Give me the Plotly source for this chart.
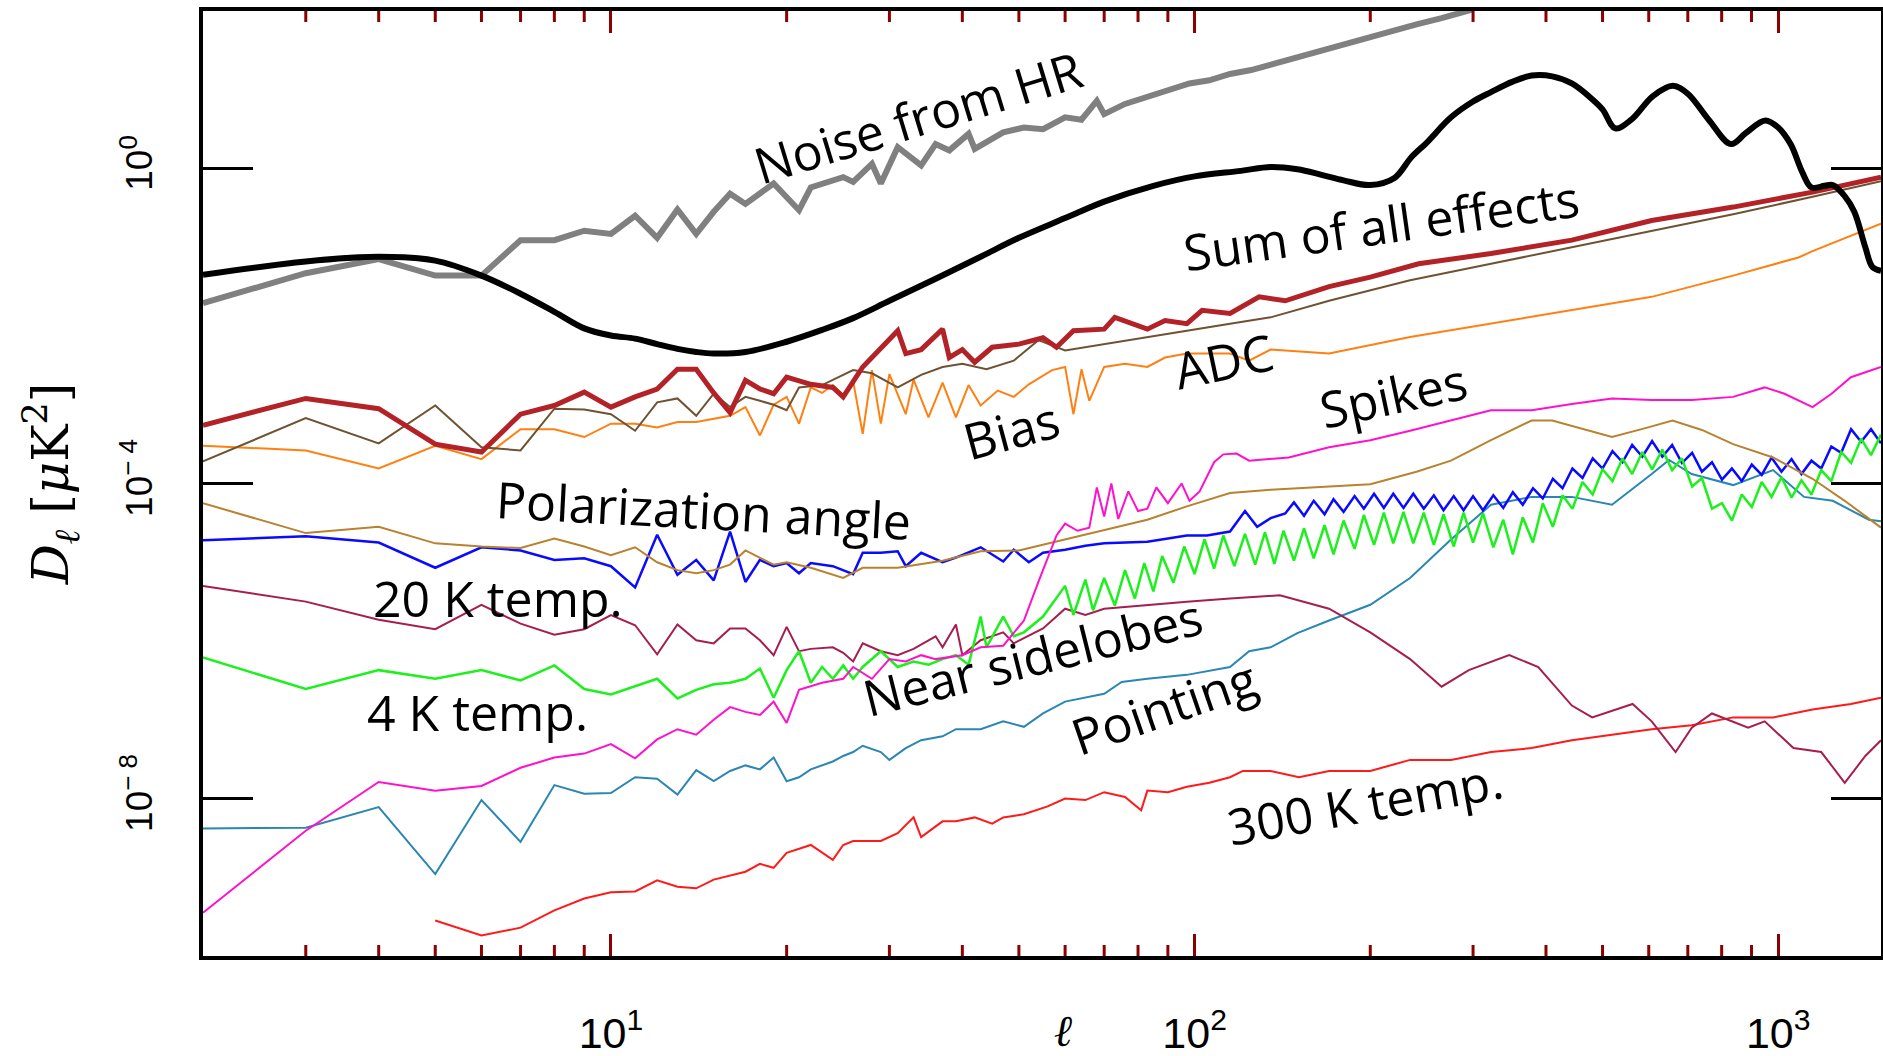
import numpy as np
import plotly.graph_objects as go

# ---- multipole grids and log10(D_ell / muK^2) for each curve ----
ell_cmb = [2, 3, 4, 5, 6, 7, 8, 9, 10, 11, 12, 13, 14, 15, 17, 20, 23, 26, 30, 36, 43, 50, 60, 70,
           85, 100, 120, 135, 150, 165, 180, 200, 220, 235, 250, 275, 300, 322, 350, 378, 410, 443,
           480, 500, 526, 560, 610, 660, 700, 760, 830, 880, 950, 1000, 1050, 1100, 1140, 1200,
           1240, 1300, 1350, 1410, 1450, 1500]
log_cmb = [-1.35, -1.18, -1.12, -1.17, -1.36, -1.59, -1.82, -2.03, -2.12, -2.16, -2.23, -2.29, -2.33,
           -2.35, -2.33, -2.20, -2.05, -1.90, -1.68, -1.40, -1.12, -0.88, -0.63, -0.42, -0.22, -0.10,
           -0.03, 0.02, -0.01, -0.08, -0.15, -0.21, -0.12, 0.14, 0.33, 0.65, 0.85, 0.97, 1.10, 1.18,
           1.17, 1.08, 0.88, 0.75, 0.51, 0.62, 0.92, 1.05, 0.95, 0.62, 0.31, 0.45, 0.61, 0.52, 0.31,
           -0.05, -0.24, -0.22, -0.21, -0.35, -0.55, -1.0, -1.25, -1.30]

ell_noise = [2, 3, 4, 5, 6, 7, 8, 9, 10, 11, 12, 13, 14, 15, 16, 17, 19, 21, 22, 25, 26, 28, 29, 31,
             34, 36, 38, 41, 42, 47, 51, 55, 60, 64, 68, 70, 76, 83, 90, 98, 106, 115, 125, 135, 150,
             165, 180, 200, 220, 240, 265, 290, 300]
log_noise = [-1.71, -1.33, -1.15, -1.36, -1.36, -0.91, -0.91, -0.79, -0.83, -0.60, -0.88, -0.52, -0.83,
             -0.55, -0.32, -0.45, -0.19, -0.53, -0.24, -0.11, -0.17, 0.06, -0.19, 0.27, 0.04, 0.31,
             0.23, 0.44, 0.25, 0.46, 0.52, 0.50, 0.65, 0.62, 0.86, 0.69, 0.82, 0.91, 0.98, 1.08, 1.12,
             1.20, 1.25, 1.32, 1.40, 1.50, 1.57, 1.67, 1.76, 1.83, 1.91, 1.98, 2.02]

ell_sum = [2, 3, 4, 5, 6, 7, 8, 9, 10, 11, 12, 13, 14, 15, 16, 17, 18, 19, 20, 22, 24, 25, 27, 29, 31,
           32, 34, 37, 38, 40, 42, 45, 50, 55, 58, 62, 70, 73, 83, 89, 97, 103, 115, 129, 143, 170,
           200, 242, 322, 443, 607, 837, 1145, 1500]
log_sum = [-3.26, -2.92, -3.05, -3.50, -3.60, -3.12, -3.01, -2.84, -3.03, -2.90, -2.80, -2.55, -2.55,
           -2.85, -3.10, -2.69, -2.80, -2.86, -2.65, -2.74, -2.78, -2.90, -2.52, -2.27, -2.06, -2.35,
           -2.30, -2.04, -2.40, -2.30, -2.46, -2.27, -2.23, -2.15, -2.27, -2.06, -2.04, -1.89, -2.04,
           -1.93, -1.97, -1.80, -1.84, -1.63, -1.68, -1.50, -1.38, -1.21, -1.08, -0.91, -0.66, -0.49,
           -0.30, -0.11]

ell_adc = [2, 3, 4, 5, 6, 7, 8, 9, 10, 11, 12, 13, 14, 15, 16, 17, 18, 19, 20, 21, 23, 26, 28, 31, 34,
           37, 40, 44, 49, 54, 60, 70, 83, 97, 115, 135, 170, 234, 322, 443, 607, 837, 1145, 1500]
log_adc = [-3.72, -3.17, -3.49, -3.01, -3.54, -3.58, -3.05, -3.06, -3.12, -3.33, -2.97, -2.92, -3.14,
           -2.86, -3.03, -2.90, -2.95, -3.0, -3.07, -2.78, -2.75, -2.56, -2.60, -2.78, -2.62, -2.52,
           -2.48, -2.55, -2.44, -2.18, -2.31, -2.23, -2.15, -2.06, -1.97, -1.89, -1.68, -1.42, -1.21,
           -1.0, -0.79, -0.58, -0.36, -0.16]

ell_bias = [2, 3, 4, 5, 6, 7, 8, 9, 10, 11, 12, 13, 14, 15, 16, 17, 18, 19, 20, 21, 22, 23, 24, 25,
            26, 27, 28, 29, 30, 32, 33, 35, 37, 39, 41, 43, 46, 49, 52, 57, 60, 62, 64, 66, 70, 76,
            83, 89, 97, 115, 124, 135, 170, 234, 322, 443, 607, 837, 1083, 1145, 1500]
log_bias = [-3.52, -3.58, -3.81, -3.52, -3.69, -3.31, -3.31, -3.41, -3.24, -3.24, -3.29, -3.22, -3.22,
            -3.18, -3.14, -3.03, -3.39, -3.0, -2.9, -3.24, -2.78, -2.85, -2.75, -2.88, -2.70, -3.37,
            -2.56, -3.24, -2.61, -3.12, -2.68, -3.16, -2.72, -3.16, -2.75, -3.01, -2.82, -2.90, -2.74,
            -2.56, -2.52, -3.12, -2.55, -2.95, -2.52, -2.48, -2.52, -2.40, -2.35, -2.35, -2.44, -2.30,
            -2.35, -2.14, -1.97, -1.80, -1.63, -1.36, -1.13, -1.05, -0.70]

ell_spikes = [2, 3, 4, 5, 6, 7, 8, 9, 10, 11, 12, 13, 14, 15, 16, 17, 18, 19, 20, 21, 23, 25, 26, 28,
              30, 32, 34, 36, 40, 43, 47, 49, 51, 54, 58, 60, 63, 66, 68, 70, 72, 74, 77, 80, 83, 86,
              90, 95, 98, 102, 106, 108, 112, 118, 124, 145, 170, 200, 234, 275, 322, 378, 443, 519,
              607, 711, 837, 948, 1025, 1145, 1234, 1332, 1500]
log_spikes = [-9.45, -8.41, -7.79, -7.90, -7.84, -7.61, -7.48, -7.43, -7.31, -7.49, -7.25, -7.12, -7.19,
              -7.0, -6.84, -6.90, -6.94, -6.77, -7.04, -6.62, -6.53, -6.48, -6.33, -6.48, -6.23, -6.26,
              -6.18, -6.23, -6.18, -6.08, -6.06, -5.89, -5.74, -5.25, -4.66, -4.51, -4.60, -4.56, -4.05,
              -4.42, -4.0, -4.45, -4.10, -4.35, -4.32, -4.05, -4.25, -4.0, -4.22, -4.10, -3.85, -3.73,
              -3.63, -3.62, -3.71, -3.67, -3.54, -3.45, -3.33, -3.20, -3.07, -3.07, -2.99, -2.92, -2.94,
              -2.94, -2.90, -2.78, -2.86, -3.03, -2.86, -2.65, -2.52]

ell_pol = [2, 3, 4, 5, 6, 7, 8, 9, 10, 11, 12, 13, 14, 15, 16, 17, 19, 20, 22, 25, 27, 31, 37, 43, 50,
           60, 70, 83, 97, 115, 135, 160, 200, 240, 275, 322, 378, 410, 460, 519, 590, 659, 740, 837,
           980, 1145, 1300, 1500]
log_pol = [-4.25, -4.63, -4.55, -4.76, -4.80, -4.82, -4.70, -4.80, -4.91, -4.81, -5.0, -5.10, -5.14,
           -5.10, -5.03, -4.85, -5.03, -5.0, -5.07, -5.20, -5.07, -5.07, -4.98, -4.86, -4.85, -4.71,
           -4.59, -4.46, -4.29, -4.12, -4.08, -4.05, -4.01, -3.85, -3.71, -3.45, -3.20, -3.20, -3.30,
           -3.41, -3.30, -3.20, -3.32, -3.50, -3.67, -3.94, -4.22, -4.56]

ell_blue = [2, 3, 4, 5, 6, 7, 8, 9, 10, 11, 12, 13, 14, 15, 16, 17, 18, 19, 20, 21, 22, 24, 26, 27, 29,
            31, 32, 34, 37, 39, 43, 47, 49, 52, 55, 60, 65, 70, 83, 97, 105, 115, 122, 128, 135, 143,
            148, 154, 160, 167, 173, 180, 188, 195, 203, 211, 219, 228, 237, 247, 257, 267, 278, 289,
            300, 312, 325, 338, 351, 365, 380, 395, 411, 427, 444, 462, 481, 500, 520, 541, 562, 585,
            608, 633, 658, 684, 712, 740, 770, 801, 833, 866, 901, 937, 974, 1013, 1054, 1096, 1140,
            1185, 1233, 1282, 1333, 1387, 1442, 1500]
log_blue = [-4.72, -4.67, -4.75, -5.07, -4.81, -4.85, -4.97, -4.95, -5.05, -5.32, -4.65, -5.16, -4.97,
            -5.23, -4.61, -5.25, -4.97, -5.05, -5.01, -5.14, -5.01, -5.05, -5.15, -4.88, -4.88, -4.86,
            -5.05, -4.88, -5.0, -4.94, -4.81, -4.99, -4.84, -5.0, -4.88, -4.84, -4.79, -4.76, -4.74,
            -4.66, -4.66, -4.61, -4.35, -4.55, -4.44, -4.38,
            -4.24, -4.41, -4.22, -4.39, -4.20, -4.36, -4.16, -4.32, -4.13, -4.31, -4.13, -4.31, -4.13,
            -4.32, -4.15, -4.34, -4.16, -4.34, -4.16, -4.34, -4.15, -4.31, -4.11, -4.27, -4.06, -4.19,
            -3.94, -4.06, -3.81, -3.93, -3.68, -3.81, -3.59, -3.73, -3.51, -3.66, -3.46, -3.66, -3.51,
            -3.74, -3.61, -3.85, -3.73, -3.95, -3.81, -3.97, -3.76, -3.89, -3.67, -3.85, -3.69, -3.88,
            -3.71, -3.81, -3.53, -3.61, -3.31, -3.47, -3.31, -3.49]

ell_20k = [2, 3, 4, 5, 6, 7, 8, 9, 10, 11, 12, 13, 14, 15, 16, 17, 18, 19, 20, 21, 22, 24, 25, 26, 27,
           29, 31, 33, 36, 37, 39, 40, 43, 47, 49, 55, 60, 65, 70, 83, 97, 115, 140, 170, 200, 234,
           265, 295, 346, 388, 443, 480, 563, 607, 667, 711, 770, 888, 948, 1062, 1185, 1300, 1410,
           1500]
log_20k = [-5.30, -5.50, -5.73, -5.85, -5.54, -5.78, -5.92, -5.85, -5.67, -5.80, -6.17, -5.79, -5.99,
           -6.03, -5.84, -5.84, -5.99, -6.18, -5.82, -6.13, -6.10, -6.08, -6.15, -6.26, -6.03, -6.13,
           -6.18, -6.10, -5.94, -6.08, -5.79, -6.18, -5.99, -5.89, -6.03, -5.84, -5.59, -5.67, -5.59,
           -5.54, -5.50, -5.46, -5.42, -5.59, -5.89, -6.23, -6.58, -6.37, -6.18, -6.33, -6.82, -6.97,
           -6.80, -7.02, -7.41, -7.10, -6.92, -7.10, -7.02, -7.36, -7.41, -7.80, -7.46, -7.26]

ell_4k = [2, 3, 4, 5, 6, 7, 8, 9, 10, 11, 12, 13, 14, 15, 16, 17, 18, 19, 20, 21, 22, 23, 24, 25, 26,
          27, 29, 31, 33, 35, 37, 39, 41, 43, 44, 47, 49, 51, 55,
          60, 62, 65, 67, 70, 73, 76, 79, 82, 85, 88, 92, 96, 100, 104, 108, 112, 117, 122, 127, 132,
          137, 142, 148, 154, 160, 167, 173, 180, 188, 195, 203, 211, 219, 228, 237, 247, 257, 267,
          278, 289, 300, 312, 325, 338, 351, 365, 380, 395, 411, 427, 444, 462, 481, 500, 520, 541,
          562, 585, 608, 633, 658, 684, 712, 740, 770, 801, 833, 866, 901, 937, 974, 1013, 1054,
          1096, 1140, 1185, 1233, 1282, 1333, 1387, 1442, 1500]
log_4k = [-6.21, -6.61, -6.37, -6.48, -6.37, -6.50, -6.31, -6.61, -6.68, -6.58, -6.48, -6.73, -6.62,
          -6.55, -6.53, -6.48, -6.35, -6.72, -6.37, -6.13, -6.53, -6.33, -6.48, -6.31, -6.48, -6.33,
          -6.13, -6.33, -6.26, -6.30, -6.23, -6.18, -6.30, -5.69, -6.08, -5.69, -5.94, -5.89, -5.69,
          -5.30, -5.67, -5.22, -5.61, -5.20, -5.55, -5.10, -5.46, -5.01, -5.37, -4.92, -5.26, -4.80,
          -5.15, -4.71, -5.08, -4.66, -5.05, -4.64, -5.03, -4.62, -5.02, -4.60, -4.98, -4.57, -4.95,
          -4.53, -4.90, -4.47, -4.83, -4.40, -4.78, -4.37, -4.76, -4.36, -4.76, -4.37, -4.78, -4.39,
          -4.80, -4.37, -4.75, -4.38, -4.81, -4.46, -4.90, -4.43, -4.75, -4.25, -4.55, -4.15, -4.32,
          -3.98, -4.14, -3.82, -3.97, -3.68, -3.88, -3.60, -3.82, -3.57, -3.83, -3.68, -4.04, -3.93,
          -4.32, -4.25, -4.47, -4.14, -4.30, -3.98, -4.17, -3.92, -4.18, -3.96, -4.14, -3.83, -3.97,
          -3.60, -3.74, -3.43, -3.64, -3.38]

ell_point = [2, 3, 4, 5, 6, 7, 8, 9, 10, 11, 12, 13, 14, 15, 16, 17, 18, 19, 20, 21, 22, 24, 25, 26,
             27, 29, 30, 32, 34, 37, 39, 43, 47, 51, 55, 60, 70, 75, 83, 97, 115, 124, 135, 150, 170,
             200, 234, 275, 322, 378, 443, 519, 607, 650, 711, 837, 980, 1107, 1240, 1430, 1500]
log_point = [-8.38, -8.37, -8.11, -8.96, -8.02, -8.55, -7.83, -7.94, -7.93, -7.73, -7.75, -7.95, -7.64,
             -7.78, -7.65, -7.58, -7.63, -7.48, -7.78, -7.73, -7.63, -7.53, -7.46, -7.41, -7.33, -7.41,
             -7.51, -7.36, -7.26, -7.21, -7.12, -7.12, -7.02, -7.09, -6.92, -6.77, -6.67, -6.52, -6.48,
             -6.43, -6.33, -6.13, -6.08, -5.90, -5.74, -5.54, -5.20, -4.71, -4.27, -4.17, -4.17, -4.27,
             -3.88, -3.70, -3.88, -4.02, -3.83, -4.17, -4.22, -4.46, -4.48]

ell_300k = [5, 6, 7, 8, 9, 10, 11, 12, 13, 14, 15, 16, 17, 18, 19, 20, 21, 22, 24, 25, 26, 29, 31, 33,
            34, 37, 39, 42, 45, 47, 51, 56, 60, 65, 70, 76, 81, 83, 90, 97, 106, 115, 121, 135, 151,
            170, 200, 234, 275, 322, 378, 443, 519, 607, 711, 837, 980, 1145, 1332, 1500]
log_300k = [-9.55, -9.74, -9.64, -9.42, -9.27, -9.19, -9.18, -9.04, -9.12, -9.14, -9.03, -8.98, -8.93,
            -8.83, -8.88, -8.69, -8.64, -8.59, -8.78, -8.59, -8.54, -8.54, -8.44, -8.24, -8.49, -8.29,
            -8.29, -8.24, -8.32, -8.24, -8.20, -8.10, -8.00, -8.02, -7.92, -7.98, -8.15, -7.90, -7.92,
            -7.85, -7.80, -7.73, -7.65, -7.65, -7.73, -7.65, -7.65, -7.51, -7.51, -7.41, -7.36, -7.26,
            -7.19, -7.12, -7.07, -6.97, -6.97, -6.87, -6.80, -6.72]

# drawing order: later entries sit on top
curves = [
    ("Pointing", ell_point, log_point, "#2a86b2", 2, "linear"),
    ("300 K temp.", ell_300k, log_300k, "#ff1a1a", 2, "linear"),
    ("20 K temp.", ell_20k, log_20k, "#a51e4f", 2, "linear"),
    ("Near sidelobes", ell_blue, log_blue, "#0a0aff", 2.5, "linear"),
    ("4 K temp.", ell_4k, log_4k, "#1ef01e", 2.5, "linear"),
    ("Polarization angle", ell_pol, log_pol, "#b8822e", 2, "linear"),
    ("Spikes", ell_spikes, log_spikes, "#ff11cc", 2, "linear"),
    ("Bias", ell_bias, log_bias, "#ff8010", 2, "linear"),
    ("ADC", ell_adc, log_adc, "#6e5232", 2, "linear"),
    ("Sum of all effects", ell_sum, log_sum, "#b22226", 5, "linear"),
    ("Noise from HR", ell_noise, log_noise, "#808080", 6, "linear"),
    ("CMB", ell_cmb, log_cmb, "#000000", 6, "spline"),
]

fig = go.Figure()
for name, ell, logd, color, width, shape in curves:
    fig.add_trace(go.Scatter(
        x=ell, y=10.0 ** np.asarray(logd), mode="lines", name=name,
        line=dict(color=color, width=width, shape=shape),
        hoverinfo="skip", showlegend=False,
    ))

# in-plot curve labels
label_text = ["Noise from HR", "Sum of all effects", "ADC", "Bias", "Spikes", "Polarization angle",
              "20 K temp.", "4 K temp.", "Near sidelobes", "Pointing", "300 K temp."]
label_ell = [33.6, 209, 112, 48.5, 219, 14.4, 6.4, 5.9, 52.7, 88.7, 196]
label_logd = [0.66, -0.72, -2.44, -3.32, -2.88, -4.34, -5.46, -6.90, -6.20, -6.84, -8.06]
label_angle = [-17, -8, -12, -15, -12, 3, 0, 0, -14, -19, -10]

for txt, l, d, ang in zip(label_text, label_ell, label_logd, label_angle):
    fig.add_annotation(x=np.log10(l), y=d, xref="x", yref="y", text=txt, showarrow=False,
                       textangle=ang, xanchor="center", yanchor="middle",
                       font=dict(family="Open Sans", size=50, color="black"))

x_lo, x_hi = np.log10(2), np.log10(1500)
major_ell = [10, 100, 1000]
minor_ell = [3, 4, 5, 6, 7, 8, 9, 20, 30, 40, 50, 60, 70, 80, 90,
             200, 300, 400, 500, 600, 700, 800, 900]
x_tick_ink = "#8b0000"

# short minor ell ticks on the bottom and top frame edges
for v in minor_ell:
    xp = (np.log10(v) - x_lo) / (x_hi - x_lo)
    for anchor, sign in ((0, 1), (1, -1)):
        fig.add_shape(type="line", xref="paper", yref="paper", x0=xp, x1=xp,
                      ysizemode="pixel", yanchor=anchor, y0=0, y1=sign * 11,
                      line=dict(color=x_tick_ink, width=3), layer="above")

tick_font = "Liberation Sans"
fig.update_layout(
    xaxis=dict(
        type="log", range=[x_lo, x_hi],
        tickmode="array", tickvals=major_ell,
        ticktext=["10<sup>1</sup>", "10<sup>2</sup>", "10<sup>3</sup>"],
        tickfont=dict(family=tick_font, size=43, color="black"),
        ticklabelstandoff=36,
        ticks="inside", ticklen=22, tickwidth=3, tickcolor=x_tick_ink,
        showline=True, linecolor="black", linewidth=4, mirror="ticks",
        showgrid=False, zeroline=False, automargin=False,
        title=dict(text="&nbsp;&nbsp;&nbsp;<i>ℓ</i>",
                   font=dict(family="DejaVu Serif", size=44, color="black"), standoff=20),
    ),
    yaxis=dict(
        type="log", range=[-10, 2],
        tickmode="array", tickvals=[1, 1e-4, 1e-8],
        ticktext=["10<sup>0</sup>", "10<sup>\u2212 4</sup>", "10<sup>\u2212 8</sup>"],
        tickangle=-90,
        tickfont=dict(family=tick_font, size=37, color="black"),
        ticklabelstandoff=32,
        ticks="inside", ticklen=50, tickwidth=3, tickcolor="black",
        showline=True, linecolor="black", linewidth=4, mirror="ticks",
        showgrid=False, zeroline=False, automargin=False,
        title=dict(text="<i>D</i><sub><i>ℓ</i></sub> [<i>μ</i>K<sup>2</sup>]",
                   font=dict(family="DejaVu Serif", size=50, color="black"), standoff=30),
    ),
    template="none",
    width=1883, height=1056, autosize=False,
    margin=dict(l=203, r=2, t=11, b=100, pad=0),
    paper_bgcolor="white", plot_bgcolor="white",
    showlegend=False,
)
fig.write_html("out.html")
